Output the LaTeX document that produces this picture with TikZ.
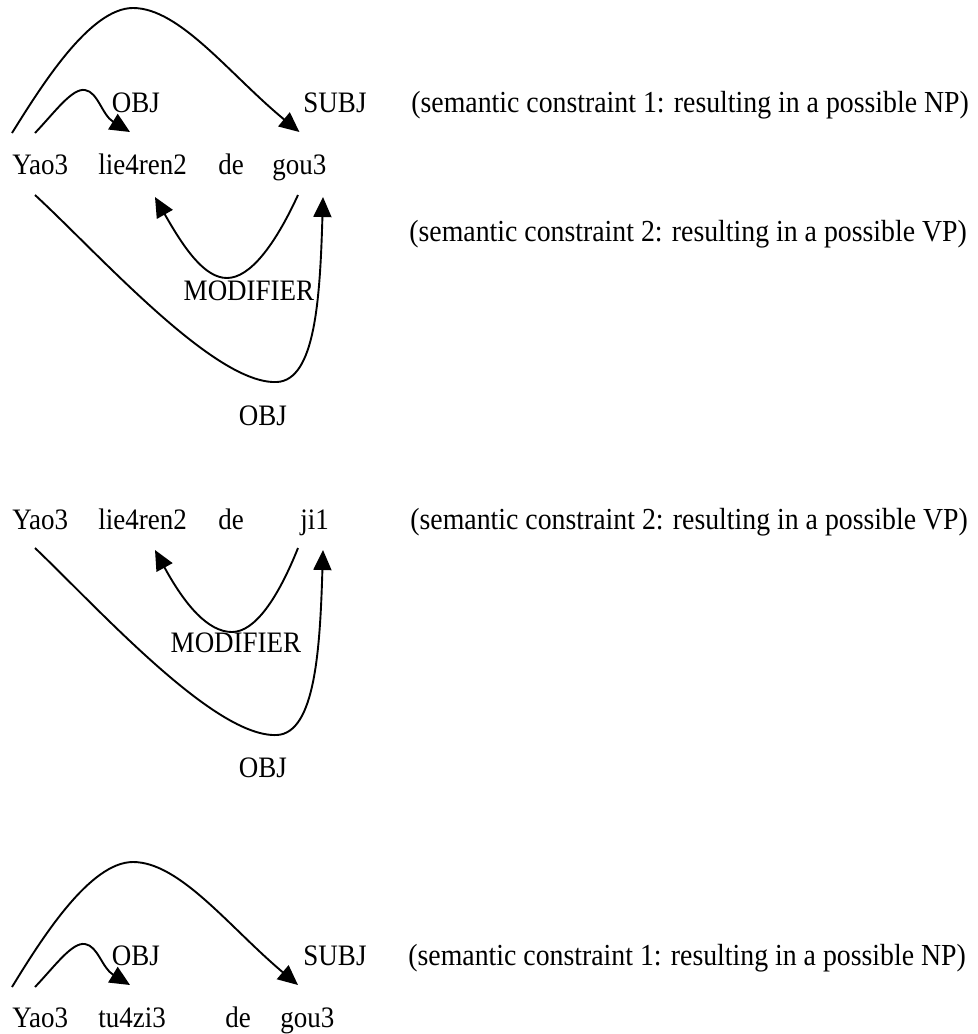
\documentclass[tikz,border=0pt]{standalone}
\usepackage{fontspec}
\setmainfont{Liberation Serif}
\usetikzlibrary{arrows.meta}
\tikzset{
  word/.style={anchor=base west, inner sep=0pt, font=\fontsize{13.5}{16}\selectfont, yscale=1.1, transform shape},
  rel/.style={anchor=base, inner sep=0pt, font=\fontsize{13.5}{16}\selectfont, yscale=1.1, transform shape},
  note/.style={anchor=base west, inner sep=0pt, font=\fontsize{13.9}{16}\selectfont, yscale=1.1, transform shape},
  dep/.style={line width=0.95pt, -{Triangle[length=10pt,width=9pt]}}
}
\begin{document}
\begin{tikzpicture}[x=0.5pt,y=-0.5pt]
  \useasboundingbox (0,0) rectangle (978,1034);
  % first sentence
  \node[word] (yaoA) at (12,174) {Yao3};
  \node[word] (lieA) at (98,174) {lie4ren2};
  \node[word] (deA) at (218,174) {de};
  \node[word] (gouA) at (272,174) {gou3};
  \node[rel] (objA) at (136,112) {OBJ};
  \node[rel] (subjA) at (335,112) {SUBJ};
  \node[note] (noteA) at (411,112) {(semantic constraint 1: resulting in a possible NP)};
  \node[rel] (modA) at (249,300) {MODIFIER};
  \node[rel] (objA2) at (263,425) {OBJ};
  \node[note] (noteA2) at (409,241) {(semantic constraint 2: resulting in a possible VP)};
  \draw[dep] ([yshift=20.5pt]yaoA.base west) .. controls (42,85) and (90,8) .. (133,8)
    .. controls (180,8) and (230,75) .. ([yshift=21pt]gouA.base);
  \draw[dep] ([xshift=11.5pt,yshift=20.5pt]yaoA.base west) .. controls (55,112) and (72,88) .. (85,90)
    .. controls (98,92) and (102,115) .. ([xshift=16pt,yshift=21pt]lieA.base west);
  \draw[dep] ([xshift=13pt,yshift=-10.5pt]gouA.base west) .. controls (275,245) and (250,278) .. (227,278)
    .. controls (205,278) and (185,250) .. ([xshift=28.5pt,yshift=-11.5pt]lieA.base west);
  \draw[dep] ([xshift=11.5pt,yshift=-10.5pt]yaoA.base west) .. controls (100,255) and (215,385) .. (277,382)
    .. controls (315,380) and (320,300) .. ([xshift=25.5pt,yshift=-11.5pt]gouA.base west);
  % second sentence
  \node[word] (yaoB) at (12,529) {Yao3};
  \node[word] (lieB) at (98,529) {lie4ren2};
  \node[word] (deB) at (218,529) {de};
  \node[word] (jiB) at (300,529) {ji1};
  \node[note] (noteB) at (410,529) {(semantic constraint 2: resulting in a possible VP)};
  \node[rel] (modB) at (236,652) {MODIFIER};
  \node[rel] (objB) at (263,777) {OBJ};
  \draw[dep] ([xshift=-1pt,yshift=-9.5pt]jiB.base west) .. controls (278,598) and (255,632) .. (232,632)
    .. controls (208,632) and (185,605) .. ([xshift=28.5pt,yshift=-10.5pt]lieB.base west);
  \draw[dep] ([xshift=11.5pt,yshift=-9.5pt]yaoB.base west) .. controls (100,610) and (215,738) .. (277,735)
    .. controls (315,733) and (320,650) .. ([xshift=11.5pt,yshift=-10.5pt]jiB.base west);
  % third sentence
  \node[word] (yaoC) at (12,1027) {Yao3};
  \node[word] (tuC) at (98,1027) {tu4zi3};
  \node[word] (deC) at (225,1027) {de};
  \node[word] (gouC) at (280,1027) {gou3};
  \node[rel] (objC) at (136,965) {OBJ};
  \node[rel] (subjC) at (335,965) {SUBJ};
  \node[note] (noteC) at (408,965) {(semantic constraint 1: resulting in a possible NP)};
  \draw[dep] ([yshift=20pt]yaoC.base west) .. controls (42,938) and (90,862) .. (133,862)
    .. controls (180,862) and (230,928) .. ([xshift=9pt,yshift=21pt]gouC.base west);
  \draw[dep] ([xshift=11.5pt,yshift=20pt]yaoC.base west) .. controls (55,966) and (72,942) .. (85,944)
    .. controls (98,946) and (102,968) .. ([xshift=16pt,yshift=21pt]tuC.base west);
\end{tikzpicture}
\end{document}
